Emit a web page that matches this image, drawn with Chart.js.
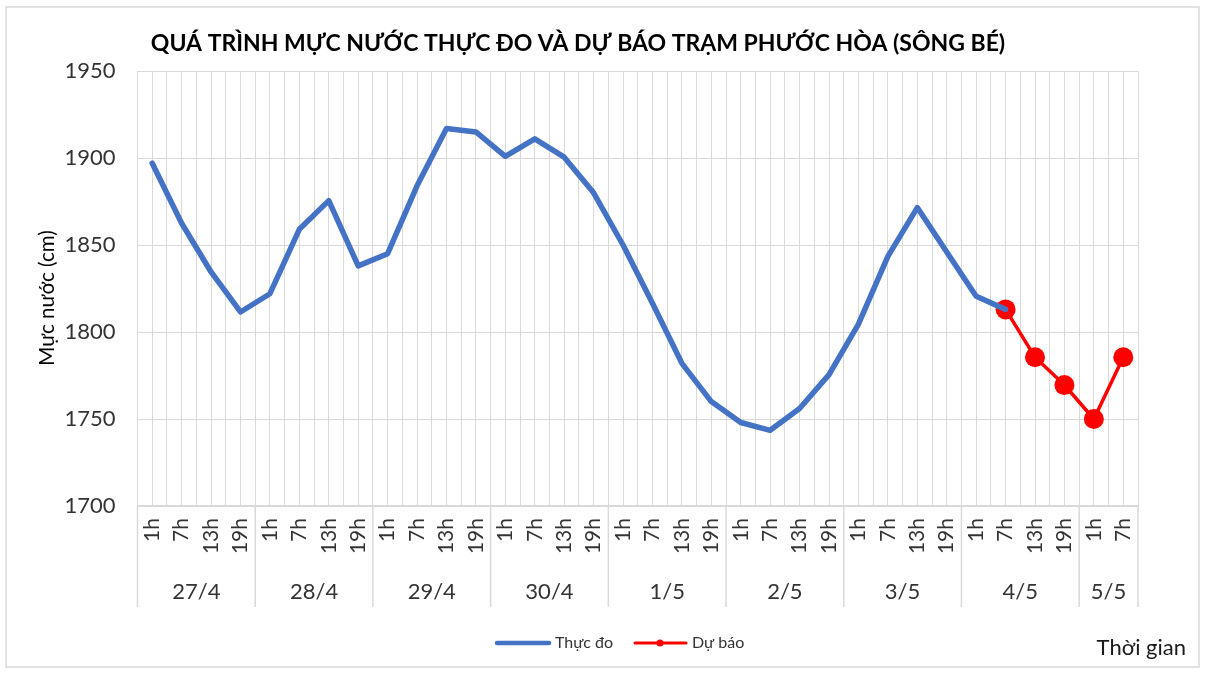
<!DOCTYPE html>
<html lang="vi">
<head>
<meta charset="utf-8">
<script src="https://cdn.jsdelivr.net/npm/chart.js@4/dist/chart.umd.min.js"></script>
<style>
  html, body { margin: 0; padding: 0; background: #ffffff; }
  #wrap { width: 1206px; height: 673px; position: relative; }
</style>
</head>
<body>
<div id="wrap"><canvas id="c" width="1206" height="673"></canvas></div>
<script>
// ---- data ----
const chartTitle = 'QUÁ TRÌNH MỰC NƯỚC THỰC ĐO VÀ DỰ BÁO TRẠM PHƯỚC HÒA (SÔNG BÉ)';
const yAxisTitle = 'Mực nước (cm)';
const xAxisTitle = 'Thời gian';
const seriesNames = ['Thực đo', 'Dự báo'];
const hourLabels = [
  '1h','7h','13h','19h', '1h','7h','13h','19h', '1h','7h','13h','19h',
  '1h','7h','13h','19h', '1h','7h','13h','19h', '1h','7h','13h','19h',
  '1h','7h','13h','19h', '1h','7h','13h','19h', '1h','7h'
];
const dateLabels = ['27/4','28/4','29/4','30/4','1/5','2/5','3/5','4/5','5/5'];
const hoursPerDate = [4,4,4,4,4,4,4,4,2];
const actualLevels = [
  1897, 1862.5, 1834.5, 1811.5,
  1822, 1859, 1875.5, 1838,
  1845, 1884, 1917, 1915,
  1901, 1911, 1900.5, 1880,
  1850, 1816.5, 1782, 1760,
  1748, 1743.5, 1756, 1775.5,
  1804.5, 1843.5, 1871.5, 1846,
  1820.5, 1813, null, null,
  null, null
];
const forecastLevels = [
  null, null, null, null, null, null, null, null, null, null,
  null, null, null, null, null, null, null, null, null, null,
  null, null, null, null, null, null, null, null, null,
  1813, 1785.5, 1769.5, 1750, 1785.5
];
const yMin = 1700, yMax = 1950, yStep = 50;

// ---- styles ----
const FONT = 'Lato, "Open Sans", sans-serif';
const BLUE = '#4472C4';
const RED = '#FF0000';
const GRID = '#d9d9d9';
const TXT = '#333333';

const decor = {
  id: 'decor',
  afterDraw(chart) {
    const ctx = chart.ctx;
    const xs = chart.scales.x;
    const a = chart.chartArea;
    const n = hourLabels.length;
    ctx.save();
    // outer frame
    ctx.strokeStyle = GRID;
    ctx.lineWidth = 1.5;
    ctx.strokeRect(6, 7, 1193, 660);

    // title
    ctx.fillStyle = '#000000';
    ctx.font = 'bold 23px ' + FONT;
    ctx.textAlign = 'center';
    ctx.textBaseline = 'middle';
    ctx.fillText(chartTitle, 578, 44);

    // y axis title
    ctx.save();
    ctx.translate(47, 298);
    ctx.rotate(-Math.PI / 2);
    ctx.font = '20.5px ' + FONT;
    ctx.fillStyle = '#000000';
    ctx.fillText(yAxisTitle, 0, 0);
    ctx.restore();

    // date group separators and labels
    const mid = (i) => (xs.getPixelForTick(i - 1) + xs.getPixelForTick(i)) / 2;
    let start = 0;
    ctx.lineWidth = 1.5;
    ctx.strokeStyle = GRID;
    ctx.font = '22px ' + FONT;
    ctx.fillStyle = TXT;
    dateLabels.forEach((d, k) => {
      const end = start + hoursPerDate[k];
      const l = start === 0 ? a.left : mid(start);
      const r = end >= n ? a.right : mid(end);
      ctx.beginPath();
      ctx.moveTo(l, a.bottom);
      ctx.lineTo(l, 607);
      ctx.stroke();
      if (end >= n) {
        ctx.beginPath();
        ctx.moveTo(r, a.bottom);
        ctx.lineTo(r, 607);
        ctx.stroke();
      }
      ctx.fillText(d, (l + r) / 2, 592);
      start = end;
    });

    // legend
    const ly = 643;
    ctx.lineCap = 'round';
    ctx.strokeStyle = BLUE;
    ctx.lineWidth = 4.5;
    ctx.beginPath(); ctx.moveTo(497, ly); ctx.lineTo(549, ly); ctx.stroke();
    ctx.strokeStyle = RED;
    ctx.lineWidth = 3;
    ctx.beginPath(); ctx.moveTo(635, ly); ctx.lineTo(686, ly); ctx.stroke();
    ctx.fillStyle = RED;
    ctx.beginPath(); ctx.arc(660, ly, 3.5, 0, Math.PI * 2); ctx.fill();
    ctx.font = '16px ' + FONT;
    ctx.fillStyle = TXT;
    ctx.textAlign = 'left';
    ctx.fillText(seriesNames[0], 555, ly);
    ctx.fillText(seriesNames[1], 692, ly);

    // x axis title
    ctx.font = '22px ' + FONT;
    ctx.fillStyle = '#1a1a1a';
    ctx.textAlign = 'right';
    ctx.fillText(xAxisTitle, 1186, 648);
    ctx.restore();
  }
};

new Chart(document.getElementById('c'), {
  type: 'line',
  data: {
    labels: hourLabels,
    datasets: [
      {
        label: seriesNames[0],
        data: actualLevels,
        borderColor: BLUE,
        backgroundColor: BLUE,
        borderWidth: 5.5,
        pointRadius: 0,
        borderJoinStyle: 'round',
        borderCapStyle: 'round',
        tension: 0,
        spanGaps: false
      },
      {
        label: seriesNames[1],
        data: forecastLevels,
        borderColor: RED,
        backgroundColor: RED,
        borderWidth: 3.5,
        pointRadius: 10,
        pointBackgroundColor: RED,
        pointBorderColor: RED,
        pointBorderWidth: 0,
        tension: 0,
        spanGaps: false
      }
    ]
  },
  options: {
    responsive: false,
    animation: false,
    events: [],
    layout: { padding: { left: 30, right: 68, top: 71, bottom: 0 } },
    plugins: {
      legend: { display: false },
      title: { display: false },
      tooltip: { enabled: false }
    },
    scales: {
      x: {
        type: 'category',
        position: 'bottom',
        offset: true,
        grid: { offset: true, color: GRID, lineWidth: 1, drawTicks: false },
        border: { display: true, color: GRID, width: 2 },
        ticks: {
          autoSkip: false,
          minRotation: 90,
          maxRotation: 90,
          padding: 12,
          color: TXT,
          font: { family: FONT, size: 21 }
        },
        afterFit(s) { s.height = 673 - 506; }
      },
      xc: {
        type: 'category',
        position: 'top',
        offset: true,
        grid: { offset: false, color: GRID, lineWidth: 1, drawTicks: false },
        border: { display: false },
        ticks: { display: false },
        afterFit(s) { s.height = 0; }
      },
      y: {
        min: yMin,
        max: yMax,
        position: 'left',
        ticks: {
          stepSize: yStep,
          padding: 22,
          color: TXT,
          font: { family: FONT, size: 22 },
          callback: (v) => String(v)
        },
        grid: { color: GRID, lineWidth: 1, drawTicks: false },
        border: { display: true, color: GRID, width: 1 },
        title: { display: false },
        afterFit(s) { s.width = 137.5 - 30; }
      }
    }
  },
  plugins: [decor]
});
</script>
</body>
</html>
